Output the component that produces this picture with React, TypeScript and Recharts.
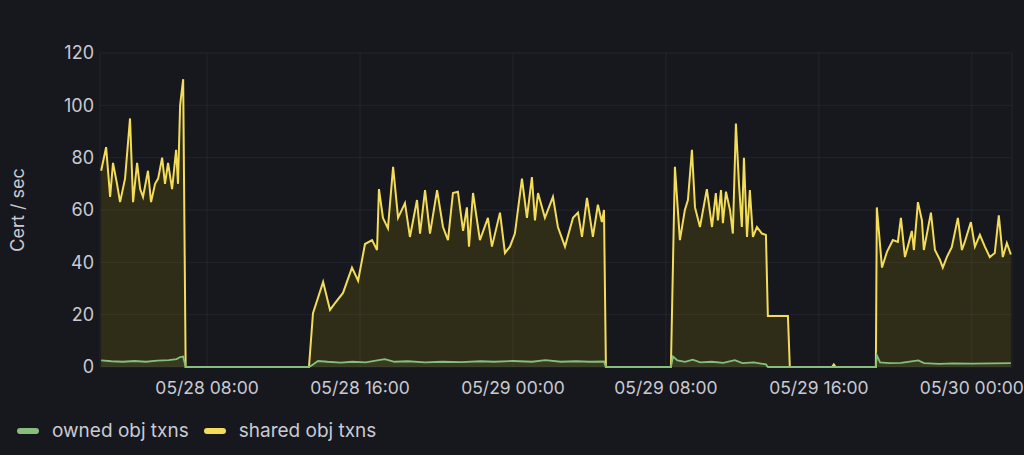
import React from 'react';
import { AreaChart, Area, XAxis, YAxis, CartesianGrid } from 'recharts';

// time in hours since 05/28 00:00
const sharedTimes = [
  2.46, 2.72, 2.93, 3.08, 3.29, 3.45, 3.71, 3.97, 4.13, 4.34, 4.5, 4.65, 4.91, 5.07, 5.28, 5.44, 5.65, 5.8, 5.96, 6.17, 6.38, 6.48, 6.59, 6.75,
  6.88, 13.33,
  13.54, 14.07, 14.43, 14.69, 15.11, 15.58, 15.9, 16.26, 16.63, 16.89, 16.99, 17.2, 17.46, 17.73, 17.99, 18.35, 18.61, 18.98, 19.14, 19.4,
  19.66, 20.03, 20.34, 20.6, 20.86, 21.12, 21.39, 21.59, 21.7, 21.91, 22.27, 22.69, 22.9, 23.32, 23.58, 23.84, 24.1, 24.47, 24.73, 24.99,
  25.15, 25.31, 25.67, 26.09, 26.35, 26.72, 27.14, 27.4, 27.61, 27.87, 28.18, 28.44, 28.65, 28.76,
  28.86, 32.26,
  32.47, 32.73, 32.99, 33.15, 33.36, 33.52, 33.78, 34.14, 34.41, 34.61, 34.72, 34.88, 34.98, 35.14, 35.35, 35.5, 35.66, 35.82, 35.97,
  36.08, 36.24, 36.39, 36.55, 36.76, 37.02, 37.23, 37.33, 38.38,
  38.48, 40.68, 40.78, 40.88, 42.98,
  43.03, 43.3, 43.56, 43.87, 44.13, 44.29, 44.5, 44.65, 44.86, 44.97, 45.18, 45.39, 45.49, 45.86, 46.07, 46.33, 46.48, 46.69, 46.95,
  47.27, 47.48, 47.63, 47.95, 48.16, 48.42, 48.68, 48.94, 49.2, 49.41, 49.62, 49.83, 50.04,
];
const sharedValues = [
  75, 84, 65, 78, 70, 63, 72, 95, 63, 78, 68, 65, 75, 63, 70, 72, 80, 70, 78, 68, 83, 70, 100, 110,
  0, 0,
  20.6, 32.5, 21.8, 24.4, 28.3, 38, 33, 47, 48.5, 44.7, 68, 57, 53, 76.5, 57, 62.6, 49.7, 63.8, 51, 67.6,
  51, 67.6, 53.5, 48.5, 66.5, 67, 52, 61, 46, 66.5, 48.5, 57, 46, 59, 43.6, 46, 51, 72, 57, 72.6,
  56, 66.5, 57, 65, 53.5, 46, 57, 59, 49.7, 64.6, 49.7, 62, 55.4, 60,
  0, 0,
  76.5, 48.5, 60, 63.8, 83, 61, 53.5, 68, 53.5, 66.5, 56, 67.6, 55, 67, 60, 51, 93, 70, 53.5,
  80, 49.7, 67.6, 49.7, 53.5, 51, 50.5, 19.5, 19.5,
  0, 0, 1, 0, 0,
  61, 38, 44, 48.5, 47.8, 57, 42, 46, 52, 44.7, 63, 56, 44.7, 59, 44.7, 41, 38, 42, 45.8,
  57, 44.7, 47.8, 55.4, 46, 50.5, 46, 42, 43.6, 58, 42, 47.4, 43,
];

const ownedTimes = [
  2.46, 3.0, 3.6, 4.2, 4.8, 5.4, 6.0, 6.4, 6.6, 6.75, 6.88, 13.33,
  13.54, 13.8, 14.3, 15.0, 15.6, 16.3, 16.9, 17.3, 17.8, 18.5, 19.4, 20.3, 21.3, 22.3, 23.0, 24.0, 25.0, 25.7, 26.5, 27.3, 28.0, 28.76,
  28.86, 32.26,
  32.37, 32.6, 33.0, 33.4, 33.8, 34.4, 35.0, 35.6, 36.0, 36.6, 37.23, 37.33,
  42.98, 43.03, 43.2, 43.7, 44.3, 45.2, 45.5, 46.3, 47.0, 48.0, 49.0, 50.04,
];
const ownedValues = [
  2.5, 2.2, 2.0, 2.3, 2.0, 2.4, 2.6, 3.0, 3.8, 4.0, 0, 0,
  1.0, 2.3, 2.0, 1.7, 2.0, 1.8, 2.5, 3.0, 2.0, 2.2, 1.8, 2.0, 1.9, 2.2, 2.0, 2.3, 2.0, 2.6, 2.0, 2.2, 2.0, 2.1,
  0, 0,
  4.0, 2.5, 2.0, 2.8, 1.8, 2.0, 1.6, 2.6, 1.5, 1.8, 1.0, 0,
  0, 4.5, 1.8, 1.5, 1.6, 2.5, 1.5, 1.2, 1.4, 1.3, 1.4, 1.5,
];

const xTicks = [8, 16, 24, 32, 40, 48];
const yTicks = [0, 20, 40, 60, 80, 100, 120];

type Row = { t: number; shared?: number; owned?: number };

const rowsByTime = new Map<number, Row>();
sharedTimes.forEach((t, i) => {
  const r = rowsByTime.get(t) || { t };
  r.shared = sharedValues[i];
  rowsByTime.set(t, r);
});
ownedTimes.forEach((t, i) => {
  const r = rowsByTime.get(t) || { t };
  r.owned = ownedValues[i];
  rowsByTime.set(t, r);
});
const data = Array.from(rowsByTime.values()).sort((a, b) => a.t - b.t);

const BG = '#17181d';
const TEXT = '#c9cad4';
const YELLOW = '#F2DC5A';
const GREEN = '#86BE7C';
const FONT = 'Inter, "Noto Sans", sans-serif';

const formatTime = (h: number) => {
  const day = 28 + Math.floor(h / 24);
  const hour = String(h % 24).padStart(2, '0');
  return `05/${day} ${hour}:00`;
};

function LegendItem({ color, label }: { color: string; label: string }) {
  return (
    <div style={{ display: 'flex', alignItems: 'center', marginRight: 15 }}>
      <span style={{ width: 22, height: 6, borderRadius: 3, background: color, marginRight: 13 }} />
      <span>{label}</span>
    </div>
  );
}

export default function App() {
  return (
    <div style={{ position: 'fixed', left: 0, top: 0, width: 1024, height: 455, background: BG, fontFamily: FONT }}>
      <AreaChart width={1024} height={455} data={data} margin={{ top: 53, right: 12, bottom: 58, left: 0 }}>
        <CartesianGrid stroke="rgba(204,204,220,0.07)" />
        <XAxis
          dataKey="t"
          type="number"
          domain={[2.4, 50.1]}
          ticks={xTicks}
          tickFormatter={formatTime}
          axisLine={false}
          tickLine={false}
          tickSize={0}
          tickMargin={15}
          height={30}
          tick={{ fill: TEXT, fontSize: 17.5, fontFamily: FONT }}
        />
        <YAxis
          domain={[0, 120]}
          ticks={yTicks}
          width={100}
          axisLine={false}
          tickLine={false}
          tickSize={0}
          tickMargin={6}
          tick={{ fill: TEXT, fontSize: 18, fontFamily: FONT }}
          label={{
            value: 'Cert / sec',
            angle: -90,
            position: 'insideLeft',
            offset: 18,
            style: { textAnchor: 'middle', fill: TEXT, fontSize: 18, fontFamily: FONT },
          }}
        />
        <Area
          type="linear"
          dataKey="shared"
          stroke={YELLOW}
          strokeWidth={2}
          fill="#c8b400"
          fillOpacity={0.14}
          connectNulls
          dot={false}
          activeDot={false}
          isAnimationActive={false}
        />
        <Area
          type="linear"
          dataKey="owned"
          stroke={GREEN}
          strokeWidth={1.8}
          fill={GREEN}
          fillOpacity={0.1}
          connectNulls
          dot={false}
          activeDot={false}
          isAnimationActive={false}
        />
      </AreaChart>
      <div
        style={{
          position: 'absolute',
          left: 17,
          top: 418,
          display: 'flex',
          color: TEXT,
          fontSize: 19,
          lineHeight: '26px',
        }}
      >
        <LegendItem color={GREEN} label="owned obj txns" />
        <LegendItem color={YELLOW} label="shared obj txns" />
      </div>
    </div>
  );
}
